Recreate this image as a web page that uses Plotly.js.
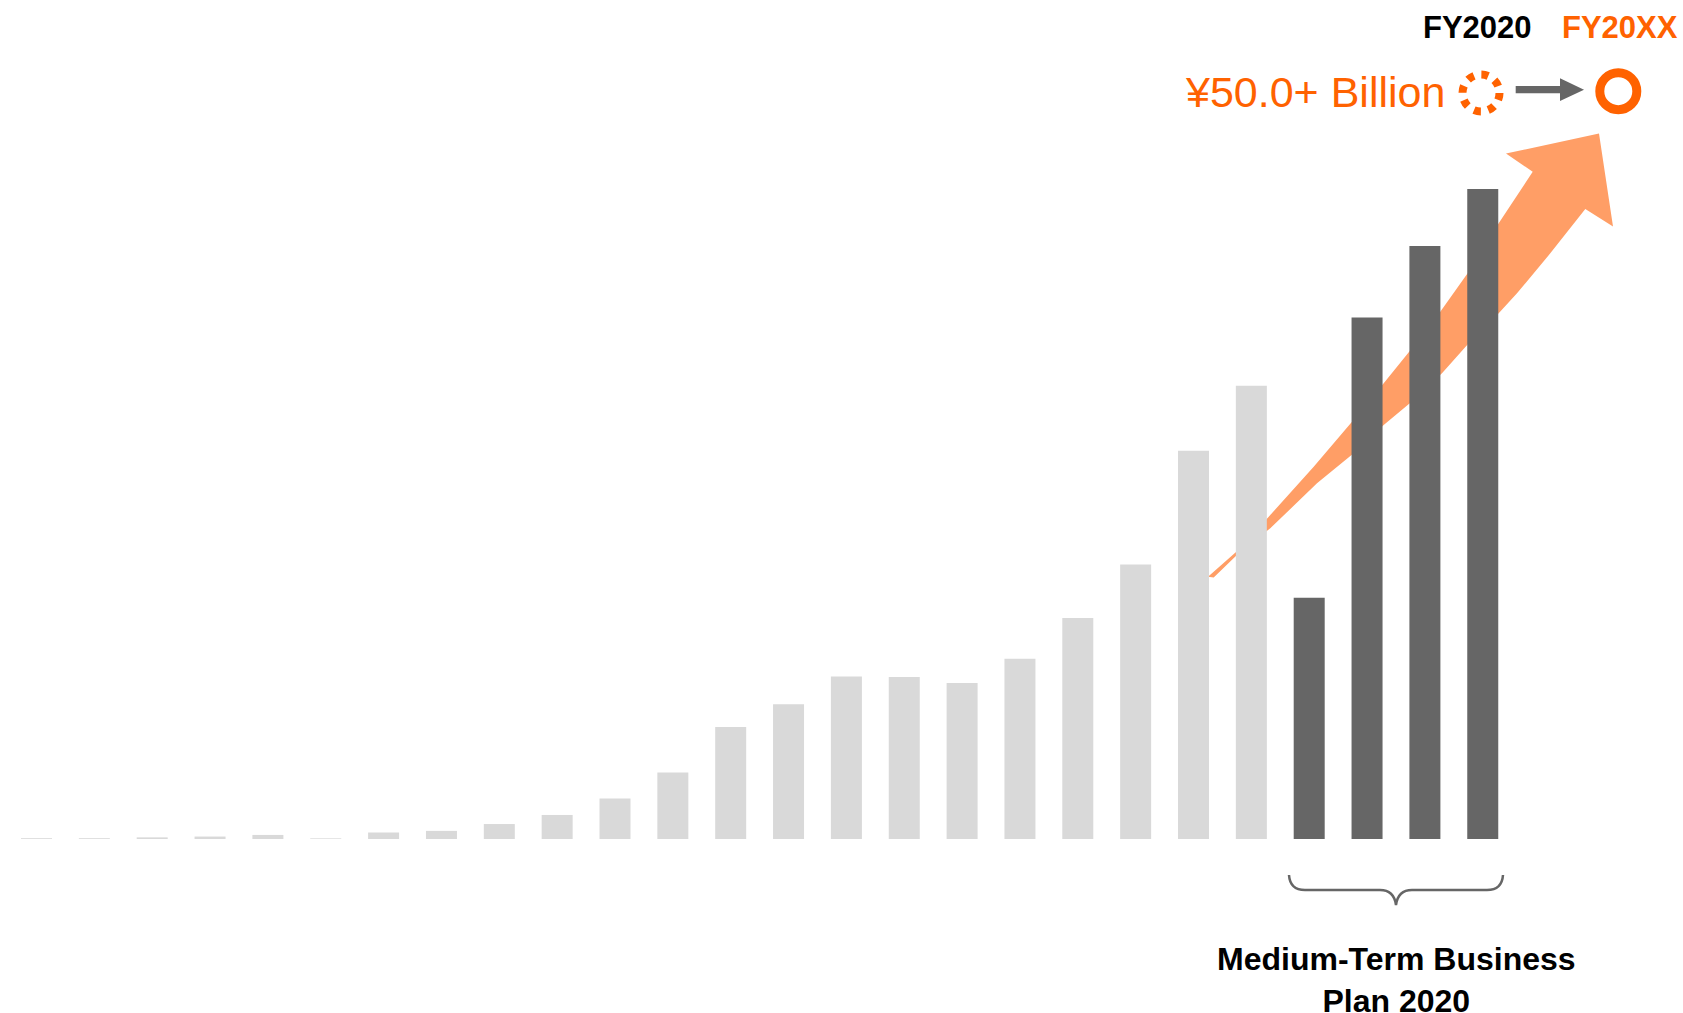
<!DOCTYPE html>
<html>
<head>
<meta charset="utf-8">
<script src="https://cdn.plot.ly/plotly-3.0.1.min.js"></script>
<style>
  html, body { margin: 0; padding: 0; background: #ffffff; }
  #chart { width: 1683px; height: 1013px; }
</style>
</head>
<body>
<div id="chart"></div>
<script>
// ---- Data (values in ¥ billion) ----
const historyYears = ['FY1995','FY1996','FY1997','FY1998','FY1999','FY2000','FY2001','FY2002',
  'FY2003','FY2004','FY2005','FY2006','FY2007','FY2008','FY2009','FY2010','FY2011','FY2012',
  'FY2013','FY2014','FY2015','FY2016'];
const historyValues = [0.05, 0.05, 0.1, 0.15, 0.25, 0.04, 0.4, 0.5, 0.92, 1.48, 2.5, 4.1,
  6.9, 8.3, 10.0, 9.97, 9.6, 11.1, 13.6, 16.9, 23.9, 27.9];
const planYears = ['FY2017','FY2018','FY2019','FY2020'];
const planValues = [14.85, 32.1, 36.5, 40.0];
const targetLabel = '¥50.0+ Billion';
const fromLabel = 'FY2020';
const toLabel = 'FY20XX';
const planLabel = 'Medium-Term Business<br>Plan 2020';

// ---- Layout helpers (pixel -> paper) ----
const W = 1683, H = 1013;
const M = {l: 0, r: 0, t: 0, b: 174};
const PW = W - M.l - M.r, PH = H - M.t - M.b;
const X = px => (px - M.l) / PW;
const Y = py => (H - M.b - py) / PH;
const path = pts => pts.map((p, i) => (i === 0 ? 'M' : 'L') + X(p[0]).toFixed(5) + ',' + Y(p[1]).toFixed(5)).join(' ') + ' Z';

const ORANGE = '#FF6200';
const ARROW = '#FF9E66';
const DARK = '#666666';
const LIGHT = '#D9D9D9';
const FONT = 'Liberation Sans, Arial, Helvetica, sans-serif';

// big curved arrow (decoration), pixel outline
const upper = [[1208,576.7],[1242,546.7],[1270.3,515],[1313.7,466.7],[1352,421.7],[1383.7,383.3],
  [1412,348.3],[1440.3,311.7],[1468.7,271.7],[1498.7,223.3],[1532.7,171.7]];
const head = [[1506,153.5],[1599,133.5],[1613,226.5],[1585.3,209]];
const lower = [[1550.3,253.3],[1517,293.3],[1498.7,313.3],[1468.7,343.3],[1442,373.3],
  [1413.7,400],[1383.7,425],[1353.7,453.3],[1317,483.3],[1270.3,528.3],[1240.3,551.7],[1213.7,577.5]];
const bigArrow = path(upper.concat(head, lower));

// small grey arrow
const greyArrow = path([[1515.7,86],[1560,86],[1560,78.3],[1584,89.7],[1560,101],[1560,93.3],[1515.7,93.3]]);

// brace
const bp = (x, y) => X(x).toFixed(5) + ',' + Y(y).toFixed(5);
const brace = 'M' + bp(1289,875) + ' Q' + bp(1290,890) + ' ' + bp(1305,890) +
  ' L' + bp(1380,890) + ' Q' + bp(1394,890) + ' ' + bp(1396,905) +
  ' Q' + bp(1398,890) + ' ' + bp(1412,890) + ' L' + bp(1487,890) +
  ' Q' + bp(1502,890) + ' ' + bp(1503,875);

const circle = (cx, cy, r, color, width, dash) => ({
  type: 'circle', xref: 'paper', yref: 'paper',
  x0: X(cx - r), x1: X(cx + r), y0: Y(cy + r), y1: Y(cy - r),
  line: {color: color, width: width, dash: dash || 'solid'}, fillcolor: 'rgba(0,0,0,0)', layer: 'above'
});

const traces = [
  {type: 'bar', x: historyYears, y: historyValues, marker: {color: LIGHT, line: {width: 0}},
   width: 0.536, hoverinfo: 'skip', showlegend: false},
  {type: 'bar', x: planYears, y: planValues, marker: {color: DARK, line: {width: 0}},
   width: 0.536, hoverinfo: 'skip', showlegend: false}
];

const pxPerUnit = 16.25;
const allYears = historyYears.concat(planYears);

const layout = {
  width: W, height: H,
  margin: M,
  paper_bgcolor: '#ffffff', plot_bgcolor: '#ffffff',
  barmode: 'overlay',
  showlegend: false,
  font: {family: FONT},
  xaxis: {type: 'category', categoryorder: 'array', categoryarray: allYears,
    range: [-36.5/57.85, -36.5/57.85 + PW/57.85],
    showgrid: false, zeroline: false, showticklabels: false, showline: false, ticks: ''},
  yaxis: {range: [0, PH/pxPerUnit], showgrid: false, zeroline: false, showticklabels: false, showline: false, ticks: ''},
  shapes: [
    {type: 'path', xref: 'paper', yref: 'paper', path: bigArrow, fillcolor: ARROW, line: {width: 0}, layer: 'below'},
    {type: 'path', xref: 'paper', yref: 'paper', path: greyArrow, fillcolor: DARK, line: {width: 0}, layer: 'above'},
    {type: 'path', xref: 'paper', yref: 'paper', path: brace, line: {color: DARK, width: 2.5}, layer: 'above'},
    circle(1481, 93, 18.5, ORANGE, 8, '7px,7.5px'),
    circle(1618.3, 91.2, 18.5, ORANGE, 9)
  ],
  annotations: [
    {xref: 'paper', yref: 'paper', x: X(1477), y: Y(28), text: '<b>' + fromLabel + '</b>', showarrow: false,
     xanchor: 'center', yanchor: 'middle', font: {size: 31, color: '#000000', family: FONT}},
    {xref: 'paper', yref: 'paper', x: X(1620), y: Y(28), text: '<b>' + toLabel + '</b>', showarrow: false,
     xanchor: 'center', yanchor: 'middle', font: {size: 31, color: ORANGE, family: FONT}},
    {xref: 'paper', yref: 'paper', x: X(1447), y: Y(92), text: targetLabel, showarrow: false,
     xanchor: 'right', yanchor: 'middle', font: {size: 43, color: ORANGE, family: FONT}},
    {xref: 'paper', yref: 'paper', x: X(1396), y: Y(980), text: '<b>' + planLabel + '</b>', showarrow: false,
     xanchor: 'center', yanchor: 'middle', align: 'center', font: {size: 32, color: '#000000', family: FONT}}
  ]
};

Plotly.newPlot('chart', traces, layout, {displayModeBar: false, staticPlot: true});
</script>
</body>
</html>
